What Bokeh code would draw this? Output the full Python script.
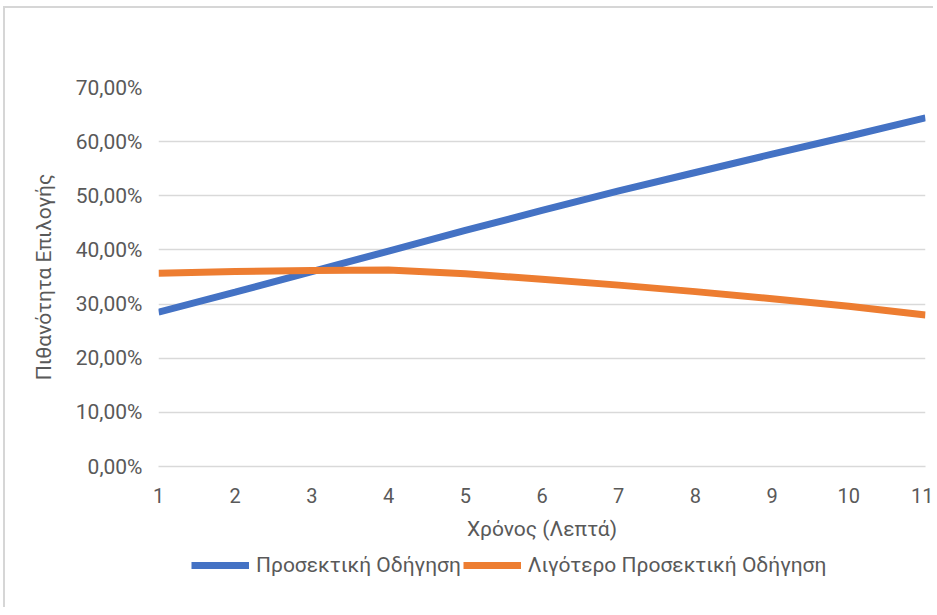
from bokeh.plotting import figure
from bokeh.layouts import column
from bokeh.models import Range1d, FixedTicker, Legend, LegendItem, CustomJSTickFormatter
from bokeh.embed import file_html
from bokeh.resources import INLINE

# Data
minutes = [1, 2, 3, 4, 5, 6, 7, 8, 9, 10, 11]
careful = [0.285, 0.322, 0.360, 0.398, 0.436, 0.473, 0.509, 0.543, 0.577, 0.610, 0.644]
less_careful = [0.357, 0.360, 0.362, 0.363, 0.356, 0.346, 0.335, 0.323, 0.310, 0.296, 0.280]
y_ticks = [0.0, 0.1, 0.2, 0.3, 0.4, 0.5, 0.6, 0.7]
series_names = ["Προσεκτική Οδήγηση", "Λιγότερο Προσεκτική Οδήγηση"]
x_title = "Χρόνος (Λεπτά)"
y_title = "Πιθανότητα Επιλογής"
colors = ["#4472C4", "#ED7D31"]

FONT = "Roboto"
TXT = "#595959"
GRID = "#d9d9d9"

# offsets of the outer chart border (left, top)
OX, OY = 5, 8

p = figure(width=933 - OX, height=548 - OY, output_backend="svg", toolbar_location=None,
           x_range=Range1d(1, 11), y_range=Range1d(0, 0.7),
           min_border_left=158 - OX, min_border_right=8, min_border_top=87 - OY, min_border_bottom=82)
p.outline_line_color = None
p.background_fill_color = "white"
p.border_fill_color = "white"

r1 = p.line(minutes, careful, line_width=7, line_color=colors[0])
r2 = p.line(minutes, less_careful, line_width=7, line_color=colors[1])

# axes
p.xaxis.ticker = FixedTicker(ticks=minutes)
p.yaxis.ticker = FixedTicker(ticks=y_ticks)
p.yaxis.formatter = CustomJSTickFormatter(code="return (tick*100).toFixed(2).replace('.', ',') + '%';")
for ax in (p.xaxis[0], p.yaxis[0]):
    ax.major_tick_line_color = None
    ax.minor_tick_line_color = None
    ax.major_label_text_font = FONT
    ax.major_label_text_font_size = "20px"
    ax.major_label_text_color = TXT
    ax.axis_label_text_font = FONT
    ax.axis_label_text_font_size = "21px"
    ax.axis_label_text_color = TXT
    ax.axis_label_text_font_style = "normal"
p.yaxis.major_label_text_font_size = "21px"
p.yaxis.axis_line_color = None
p.xaxis.axis_line_color = GRID
p.xaxis.axis_line_width = 1.5
p.xaxis.major_label_standoff = 15
p.yaxis.major_label_standoff = 10
p.xaxis.axis_label = x_title
p.yaxis.axis_label = y_title
p.xaxis.axis_label_standoff = 11
p.yaxis.axis_label_standoff = 17

p.xgrid.grid_line_color = None
p.ygrid.grid_line_color = GRID
p.ygrid.grid_line_width = 1.5

# legend strip below the chart (its lines are kept outside its visible range)
lg = figure(width=933 - OX, height=59, output_backend="svg", toolbar_location=None,
            x_range=Range1d(-20, -10), y_range=Range1d(0, 1),
            min_border_left=158 - OX, min_border_right=8, min_border_top=0, min_border_bottom=0)
lg.axis.visible = False
lg.grid.visible = False
lg.outline_line_color = None
lg.border_fill_color = "white"
lg.background_fill_color = "white"
l1 = lg.line(minutes, careful, line_width=7, line_color=colors[0])
l2 = lg.line(minutes, less_careful, line_width=7, line_color=colors[1])
legend = Legend(items=[LegendItem(label=series_names[0], renderers=[l1]),
                       LegendItem(label=series_names[1], renderers=[l2])],
                orientation="horizontal", location=(33, 30),
                glyph_width=58, glyph_height=20, label_standoff=7, spacing=2,
                padding=0, margin=0, border_line_alpha=0, background_fill_alpha=0,
                label_text_font=FONT, label_text_font_size="21px", label_text_color=TXT)
lg.add_layout(legend, "center")

layout = column(p, lg, spacing=0,
                styles={"margin-left": "3px", "margin-top": "6px",
                        "border-left": "2px solid #d6d6d6", "border-top": "2px solid #d6d6d6"})

open("out.html", "w").write(file_html(layout, INLINE))
